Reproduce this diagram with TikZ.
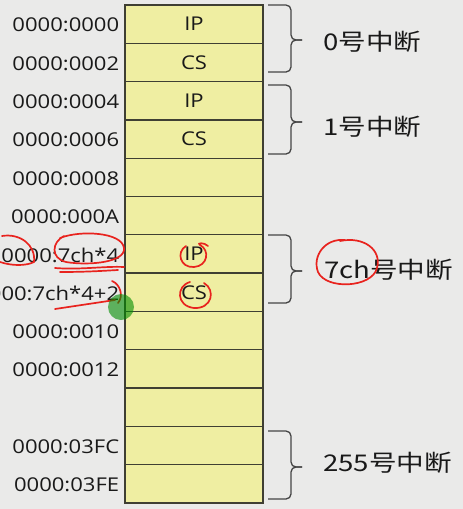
\documentclass[tikz,border=0pt]{standalone}
\usepackage{fontspec}
\setmainfont[FakeStretch=1.16]{Open Sans}
\newfontfamily\cjk[FakeStretch=1.2]{Noto Sans CJK SC}
\definecolor{bg}{HTML}{EAEAE9}
\definecolor{cellfill}{HTML}{EFEEA2}
\definecolor{edge}{HTML}{3F3F33}
\definecolor{bracec}{HTML}{454545}
\definecolor{ink}{HTML}{E8231E}
\tikzset{
  cell/.style={draw=edge, line width=1.3pt, fill=cellfill, rectangle,
    minimum width=138pt, minimum height=38.3pt, inner sep=0pt,
    font=\fontsize{19}{21}\selectfont, text=black!90},
  addr/.style={anchor=east, inner sep=0pt, font=\fontsize{19}{21}\selectfont, text=black!90},
  grp/.style={anchor=west, inner sep=0pt, font=\cjk\fontsize{23}{25}\selectfont, text=black!90},
  bracestyle/.style={draw=bracec, line width=1.3pt, rounded corners=5pt},
  pen/.style={draw=ink, line width=1.7pt, line cap=round, line join=round},
}
\begin{document}
\begin{tikzpicture}[x=1pt,y=-1pt]
\useasboundingbox (0,0) rectangle (463,509);
\fill[bg] (0,0) rectangle (463,509);
\begin{scope}
\clip (0,0) rectangle (463,509);
% cells
\foreach \i/\t in {1/IP,2/CS,3/IP,4/CS,5/{},6/{},7/IP,8/CS,9/{},10/{},11/{},12/{},13/{}}
  \node[cell] (r\i) at (194,{5+38.3*(\i-0.5)}) {\t};
% addresses
\foreach \i/\t in {1/0000:0000,2/0000:0002,3/0000:0004,4/0000:0006,5/0000:0008,6/0000:000A,7/0000:7ch*4,8/0000:7ch*4+2,9/0000:0010,10/0000:0012,12/0000:03FC,13/0000:03FE}
  \node[addr] (a\i) at ([xshift=-5pt,yshift=-1pt]r\i.west) {\t};
% braces
\foreach \n/\ya/\yb/\ym in {b0/5/72/40, b1/85/154/122, b7/235/303/271, b255/431/499/467}{
  \coordinate (\n t) at (268,\ya);
  \coordinate (\n b) at (268,\yb);
  \coordinate (\n m) at (302,\ym);
  \draw[bracestyle] (\n t) -- (291,\ya) -- (291,\ym) -- (\n m);
  \draw[bracestyle] (\n m) -- (291,\ym) -- (291,\yb) -- (\n b);
}
\node[grp] (g0) at (323,42) {0号中断};
\node[grp] (g1) at (323,127) {1号中断};
\node[grp] (g7) at (324,270) {7ch号中断};
\node[grp] (g255) at (323,463) {255号中断};
% red annotations
\draw[pen] (2,236) .. controls (20,233) and (36,245) .. (34,262);
\draw[pen] (0,262) .. controls (12,266) and (26,266) .. (34,262);
\draw[pen] (60,238) .. controls (80,230) and (122,232) .. (124,248)
  .. controls (126,262) and (90,266) .. (66,262)
  .. controls (50,258) and (52,242) .. (64,236);
\draw[pen] (55,268) .. controls (80,270) and (105,266) .. (124,267);
\draw[pen] (60,272) .. controls (85,272) and (100,271) .. (118,270);
\draw[pen] (186,246) .. controls (176,252) and (180,268) .. (194,267)
  .. controls (208,266) and (210,250) .. (200,245)
  .. controls (196,243) and (204,242) .. (208,246);
\draw[pen] (190,282) .. controls (176,286) and (176,306) .. (194,308)
  .. controls (212,309) and (216,290) .. (204,283);
\draw[pen] (55,309) .. controls (75,306) and (95,303) .. (115,300);
\draw[pen] (112,281) .. controls (120,284) and (124,296) .. (118,303);
\draw[pen] (345,240) .. controls (325,238) and (312,256) .. (318,272)
  .. controls (326,290) and (372,288) .. (377,268)
  .. controls (382,250) and (364,236) .. (340,241);
% cursor
\fill[green!55!black, opacity=0.6] (121,307) circle (13);
\end{scope}
\end{tikzpicture}
\end{document}
